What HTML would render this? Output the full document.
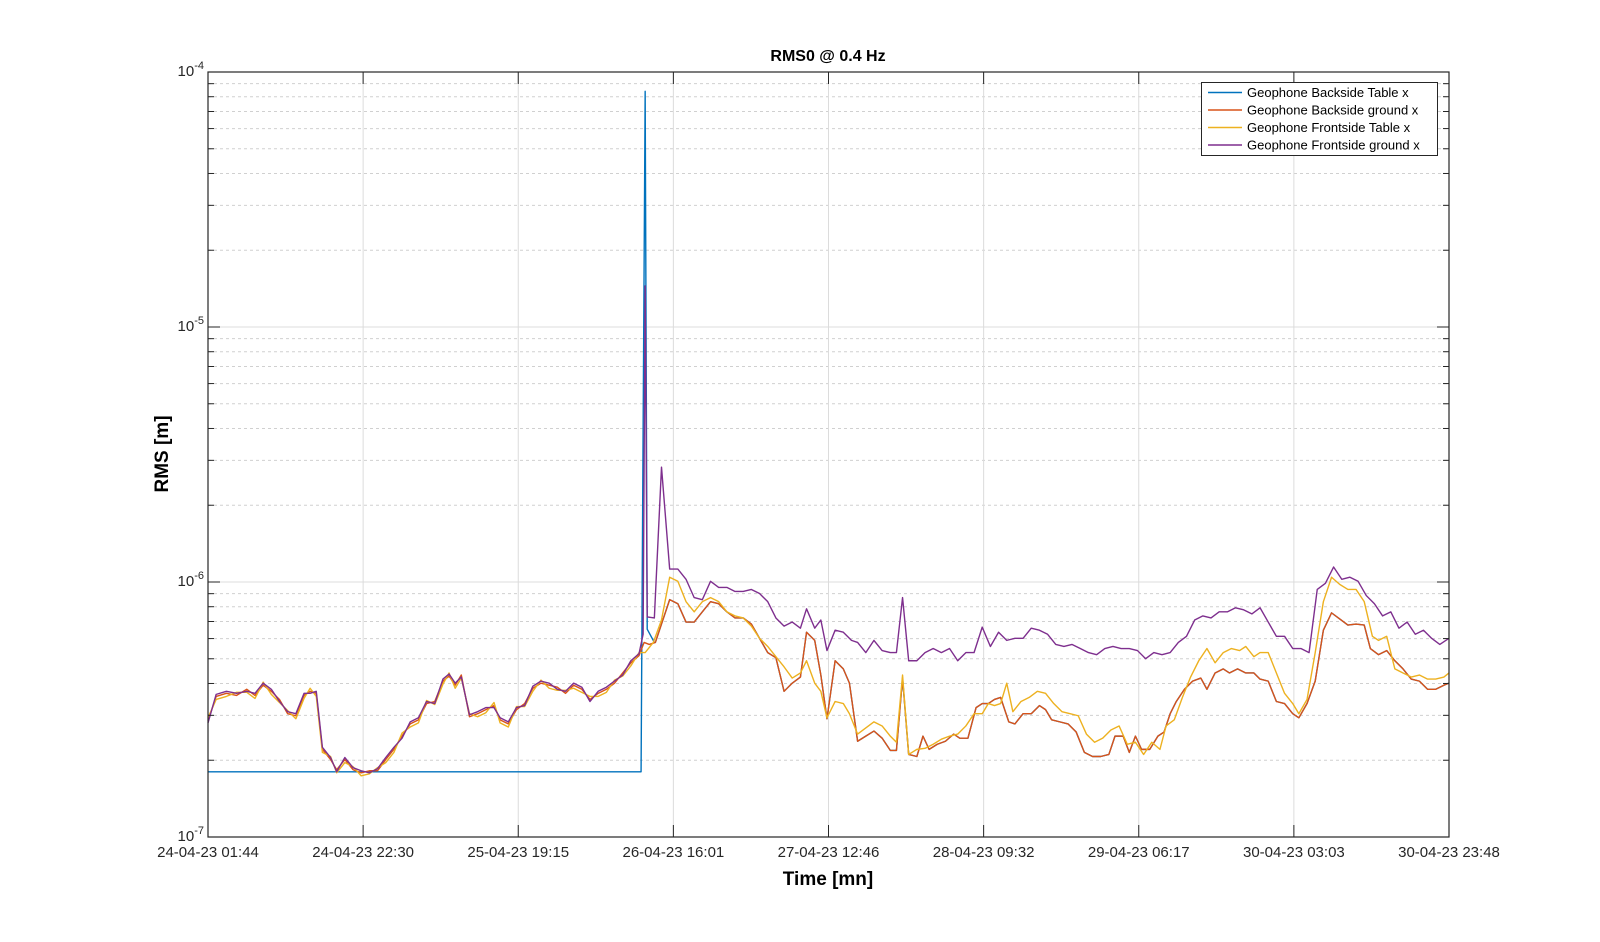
<!DOCTYPE html>
<html><head><meta charset="utf-8"><style>
html,body{margin:0;padding:0;background:#fff;width:1600px;height:942px;overflow:hidden}
svg{display:block;font-family:"Liberation Sans",Arial,sans-serif}
</style></head><body>
<svg id="s" width="1600" height="942" xmlns="http://www.w3.org/2000/svg">
<rect width="1600" height="942" fill="#fff"/>
<g id="grid"></g>
<g id="data" transform="translate(208,72) scale(1.0214,1.0186) translate(-204,-70)" fill="none" stroke-width="1.4" stroke-linejoin="round"></g>
<g id="axes"></g>
<text x="828" y="61" font-size="16" font-weight="bold" text-anchor="middle">RMS0 @ 0.4 Hz</text>
<text x="828" y="885" font-size="19" font-weight="bold" text-anchor="middle">Time [mn]</text>
<text transform="translate(168,454) rotate(-90)" font-size="19" font-weight="bold" text-anchor="middle">RMS [m]</text>
<g>
<rect x="1201.5" y="82.5" width="236" height="73" fill="#fff" stroke="#262626" stroke-width="1"/>
<line x1="1208" y1="92.5" x2="1242" y2="92.5" stroke="#0072bd" stroke-width="1.5"/>
<line x1="1208" y1="110" x2="1242" y2="110" stroke="#d95319" stroke-width="1.5"/>
<line x1="1208" y1="127.5" x2="1242" y2="127.5" stroke="#edb120" stroke-width="1.5"/>
<line x1="1208" y1="145" x2="1242" y2="145" stroke="#7e2f8e" stroke-width="1.5"/>
<g font-size="13" fill="#000">
<text x="1247" y="97">Geophone Backside Table x</text>
<text x="1247" y="114.5">Geophone Backside ground x</text>
<text x="1247" y="132">Geophone Frontside Table x</text>
<text x="1247" y="149.5">Geophone Frontside ground x</text>
</g></g>
</svg>
<script>
const NS="http://www.w3.org/2000/svg";
const L=208,R=1449,T=72,B=837,D=(B-T)/3;
const g=document.getElementById('grid'),a=document.getElementById('axes');
function el(p,tag,at,txt){const e=document.createElementNS(NS,tag);for(const k in at)e.setAttribute(k,at[k]);if(txt!==undefined)e.innerHTML=txt;p.appendChild(e);return e;}
for(let d=0;d<3;d++){const y0=B-d*D;
 for(let m=2;m<=9;m++){const y=y0-Math.log10(m)*D;
  el(g,'line',{x1:L,x2:R,y1:y,y2:y,stroke:'#d0d0d0','stroke-dasharray':'3,3','stroke-width':1});
  el(a,'line',{x1:L,x2:L+6,y1:y,y2:y,stroke:'#262626'});
  el(a,'line',{x1:R-6,x2:R,y1:y,y2:y,stroke:'#262626'});}}
for(let d=0;d<=3;d++){const y=B-d*D;
 el(g,'line',{x1:L,x2:R,y1:y,y2:y,stroke:'#dcdcdc'});
 el(a,'line',{x1:L,x2:L+12,y1:y,y2:y,stroke:'#262626'});
 el(a,'line',{x1:R-12,x2:R,y1:y,y2:y,stroke:'#262626'});
 el(a,'text',{x:L-4,y:y+4,'font-size':15,'text-anchor':'end',fill:'#262626'},'10<tspan dy="-7" font-size="11">-'+(7-d)+'</tspan>');}
const labs=["24-04-23 01:44","24-04-23 22:30","25-04-23 19:15","26-04-23 16:01","27-04-23 12:46","28-04-23 09:32","29-04-23 06:17","30-04-23 03:03","30-04-23 23:48"];
labs.forEach((t,i)=>{const x=L+i*(R-L)/8;
 if(i>0&&i<8)el(g,'line',{x1:x,x2:x,y1:T,y2:B,stroke:'#dcdcdc'});
 el(a,'line',{x1:x,x2:x,y1:B,y2:B-12,stroke:'#262626'});
 el(a,'line',{x1:x,x2:x,y1:T,y2:T+12,stroke:'#262626'});
 el(a,'text',{x:x,y:B+20,'font-size':15,'text-anchor':'middle',fill:'#262626'},t);});
el(a,'rect',{x:L,y:T,width:R-L,height:B-T,fill:'none',stroke:'#262626','stroke-width':1.2});

const pre="204,707 212,683 222,680 232,682 242,676 250,682 258,672 266,678 274,686 282,700 290,702 298,682 304,678 310,680 316,735 324,745 330,755 338,745 346,755 354,758 362,756 370,756 378,745 386,735 394,722 402,710 410,706 418,690 426,688 434,668 440,663 446,672 452,662 460,703 468,700 476,696 484,692 490,706 498,710 506,696 514,690 522,675 530,670 538,672 546,674 554,680 562,672 570,676 578,686 586,680 594,676 602,670 610,660 618,650 626,643";
const orange=pre+" 631,630 636,632 642,630 648,612 656,588 664,592 672,610 680,610 688,600 696,590 704,592 712,600 720,606 728,606 736,612 744,626 752,640 760,645 768,678 776,670 784,664 790,620 798,628 804,662 810,705 818,648 826,656 832,670 840,727 848,722 856,717 864,724 872,736 878,736 884,665 890,740 898,742 904,722 910,735 918,730 926,727 934,720 940,724 948,724 956,694 962,690 968,690 974,686 980,684 988,708 994,710 1002,700 1010,700 1018,692 1024,696 1030,706 1038,708 1046,710 1054,718 1062,738 1070,742 1078,742 1086,740 1092,722 1100,722 1106,738 1112,722 1118,735 1126,735 1134,722 1140,718 1146,700 1152,688 1160,676 1168,668 1176,665 1182,676 1190,660 1198,656 1204,660 1212,656 1220,660 1228,660 1234,666 1242,668 1250,688 1258,690 1266,700 1272,704 1280,690 1288,668 1296,618 1304,601 1312,607 1320,613 1328,612 1336,613 1342,636 1350,642 1358,638 1366,648 1374,656 1382,666 1390,668 1398,676 1406,676 1414,672 1419,670";
function shift(s,dy,every){return s.split(' ').map((p,i)=>{const [x,y]=p.split(',').map(Number);return x+','+(y+((i%every)?dy:-dy))}).join(' ');}
const yellowPre=shift(pre,3,3);
const yellow=yellowPre+" 632,640 640,630 648,608 656,566 664,570 672,590 680,600 688,590 696,586 704,590 712,600 720,604 728,606 736,614 744,626 752,634 760,644 768,654 776,665 784,660 790,648 798,670 804,678 810,704 818,688 826,690 832,700 840,720 848,714 856,708 864,712 872,722 878,728 884,662 890,740 898,735 906,734 914,730 922,725 930,722 938,720 946,712 954,700 962,700 968,690 974,692 980,690 986,670 992,698 1000,688 1008,684 1016,678 1024,680 1032,690 1040,698 1048,700 1056,702 1064,720 1072,728 1080,724 1088,716 1096,712 1104,730 1112,728 1120,740 1128,728 1136,735 1142,712 1150,706 1158,684 1166,664 1174,648 1182,636 1190,650 1198,640 1206,636 1214,638 1220,634 1228,644 1234,640 1242,640 1250,660 1258,680 1266,690 1272,700 1280,686 1288,640 1296,590 1304,566 1312,573 1320,578 1328,578 1336,590 1344,624 1350,628 1358,624 1366,656 1374,660 1382,664 1390,662 1398,666 1406,666 1414,664 1419,660";
const purplePre=shift(pre,-2,4).replace("610,660 618,650 626,643","610,656 618,624 626,622");
const purple=purplePre+" 630,622 632,280 634,605 641,606 648,458 656,558 664,558 672,568 680,586 688,588 696,570 704,576 712,576 720,580 728,580 736,578 744,582 752,590 760,606 768,614 776,610 784,616 790,597 798,616 804,608 810,638 818,618 826,620 834,628 840,630 848,640 856,628 864,638 872,640 878,640 884,586 890,648 898,648 906,640 914,636 922,640 930,636 938,648 946,640 954,640 962,615 970,634 978,620 986,628 994,626 1002,626 1010,616 1018,618 1026,622 1034,632 1042,634 1050,632 1058,636 1066,640 1074,642 1082,636 1090,634 1098,636 1106,636 1114,638 1122,646 1130,640 1138,642 1146,640 1154,630 1162,624 1170,608 1178,604 1186,606 1194,600 1202,600 1210,596 1218,598 1226,602 1234,596 1242,610 1250,624 1258,624 1266,636 1274,636 1282,640 1290,578 1298,572 1306,556 1314,568 1322,566 1330,570 1338,584 1346,592 1354,604 1362,600 1370,616 1378,610 1386,622 1394,618 1402,626 1410,632 1419,626";
const blue="204,757 300,757 400,757 500,757 628,757 632,89 634,617 641,630 "+orange.split(' ').filter(p=>+p.split(',')[0]>641).join(' ');
const dg=document.getElementById('data');
[[blue,'#0072bd'],[orange,'#d95319'],[yellow,'#edb120'],[purple,'#7e2f8e']].forEach(([p,c])=>el(dg,'polyline',{points:p,stroke:c,'vector-effect':'non-scaling-stroke'}));
</script>
</body></html>
